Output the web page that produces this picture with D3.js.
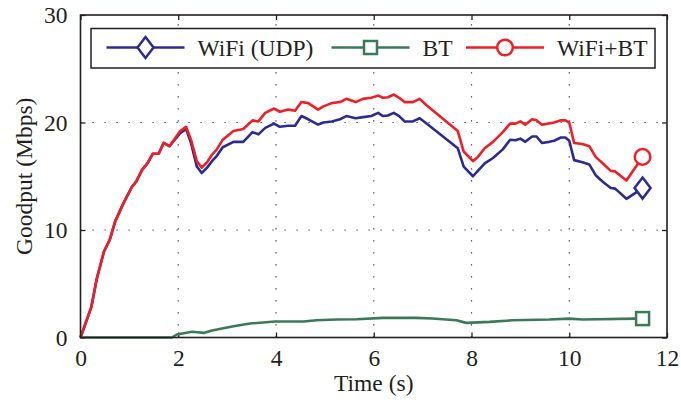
<!DOCTYPE html>
<html>
<head>
<meta charset="utf-8">
<script src="https://cdn.jsdelivr.net/npm/d3@7"></script>
<style>
  html, body { margin: 0; padding: 0; background: #fff; }
  svg { display: block; }
  text { font-family: "Liberation Serif", "Times New Roman", serif; fill: #231f20; }
</style>
</head>
<body>
<svg id="chart" width="681" height="404"></svg>
<script>
// Goodput over time for WiFi alone, Bluetooth alone, and both combined.
const timeShared = [0, 0.22, 0.33, 0.48, 0.6, 0.71, 0.88, 1.05, 1.14, 1.26, 1.37, 1.48, 1.6, 1.7, 1.82,
  2.04, 2.16, 2.26, 2.38, 2.48, 2.59, 2.69, 2.79, 2.91, 3.13, 3.33, 3.52, 3.64, 3.78, 3.96,
  4.08, 4.25, 4.39, 4.52, 4.66, 4.86, 4.97, 5.14, 5.31, 5.44, 5.63, 5.78, 5.95, 6.09, 6.19,
  6.29, 6.41, 6.52, 6.63, 6.8, 6.94, 7.08, 7.72, 7.84, 8.03, 8.13, 8.27, 8.44, 8.64, 8.79,
  8.9, 9.0, 9.1, 9.24, 9.33, 9.44, 9.59, 9.69, 9.83, 9.92, 10.0, 10.1, 10.27, 10.41, 10.54,
  10.71, 10.85, 10.94, 11.17, 11.5];

const wifiUdp = [0, 2.8, 5.4, 8.0, 9.1, 10.8, 12.5, 14.0, 14.5, 15.6, 16.2, 17.1, 17.1, 18.1, 17.8,
  19.0, 19.4, 18.1, 15.9, 15.3, 15.8, 16.4, 16.9, 17.7, 18.2, 18.2, 19.1, 18.9, 19.5, 19.9,
  19.6, 19.7, 19.7, 20.6, 20.3, 19.8, 20.0, 20.1, 20.3, 20.6, 20.4, 20.5, 20.6, 20.9, 20.6,
  20.65, 20.9, 20.6, 20.1, 20.1, 20.4, 19.9, 17.6, 15.9, 15.0, 15.5, 16.2, 16.7, 17.5, 18.4,
  18.35, 18.5, 18.2, 18.7, 18.7, 18.1, 18.2, 18.3, 18.6, 18.6, 18.3, 16.5, 16.3, 16.1, 15.1,
  14.4, 13.9, 13.85, 12.9, 13.9];

const wifiPlusBt = [0, 2.8, 5.4, 8.0, 9.1, 10.8, 12.5, 14.0, 14.5, 15.6, 16.2, 17.1, 17.1, 18.1, 17.8,
  19.2, 19.6, 18.4, 16.4, 15.8, 16.3, 17.0, 17.5, 18.4, 19.2, 19.4, 20.2, 20.1, 20.9, 21.3,
  21.0, 21.2, 21.1, 21.9, 21.8, 21.2, 21.5, 21.8, 21.9, 22.2, 21.9, 22.2, 22.3, 22.5, 22.3,
  22.35, 22.6, 22.3, 21.9, 21.9, 22.2, 21.6, 19.2, 17.3, 16.4, 16.8, 17.6, 18.2, 19.1, 19.9,
  19.9, 20.1, 19.8, 20.3, 20.2, 19.8, 19.9, 20.0, 20.2, 20.2, 20.0, 18.1, 18.0, 17.8, 16.8,
  16.1, 15.5, 15.45, 14.6, 16.8];

const timeBt = [0, 1.87, 1.97, 2.28, 2.52, 2.69, 3.13, 3.47, 3.98, 4.56, 4.83, 5.24, 5.65, 6.19,
  6.87, 7.2, 7.69, 7.89, 8.37, 8.84, 9.59, 10.0, 10.27, 11.36, 11.5];
const btOnly = [0, 0, 0.28, 0.53, 0.43, 0.65, 1.05, 1.3, 1.49, 1.49, 1.6, 1.67, 1.7, 1.83,
  1.83, 1.77, 1.6, 1.36, 1.45, 1.6, 1.67, 1.76, 1.67, 1.76, 1.76];

const xTicks = [0, 2, 4, 6, 8, 10, 12];
const yTicks = [0, 10, 20, 30];
const seriesNames = ["WiFi (UDP)", "BT", "WiFi+BT"];
const seriesColors = ["#2b2b90", "#3c7a57", "#ee1f26"];
const seriesMarkers = ["diamond", "square", "circle"];

const svg = d3.select("#chart");
const L = 80.5, R = 667, T = 15, B = 337.5;

const x = d3.scaleLinear().domain([0, 12]).range([L, R]);
const y = d3.scaleLinear().domain([0, 30]).range([B, T]);

// dotted grid
const grid = svg.append("g").attr("stroke", "#333").attr("stroke-width", 1.2)
  .attr("stroke-dasharray", "1.2,10.8");
xTicks.filter(d => d > 0 && d < 12).forEach(d => {
  grid.append("line").attr("x1", x(d)).attr("x2", x(d)).attr("y1", B).attr("y2", T);
});
yTicks.filter(d => d > 0 && d < 30).forEach(d => {
  grid.append("line").attr("x1", L).attr("x2", R).attr("y1", y(d)).attr("y2", y(d));
});

// axes with inward ticks on all four sides
const fontSize = 23.5;
function styleAxis(g) {
  g.select(".domain").remove();
  g.selectAll(".tick line").attr("stroke", "#231f20").attr("stroke-width", 1.3);
  g.selectAll(".tick text").style("font-size", fontSize + "px")
    .style("font-family", "'Liberation Serif', 'Times New Roman', serif").attr("fill", "#231f20");
}
svg.append("g").attr("transform", `translate(0,${B})`)
  .call(d3.axisBottom(x).tickValues(xTicks).tickFormat(d3.format("d")).tickSizeInner(-5).tickPadding(12))
  .call(styleAxis);
svg.append("g").attr("transform", `translate(0,${T})`)
  .call(d3.axisTop(x).tickValues(xTicks).tickSizeInner(-5).tickFormat(""))
  .call(styleAxis);
svg.append("g").attr("transform", `translate(${L},0)`)
  .call(d3.axisLeft(y).tickValues(yTicks).tickFormat(d3.format("d")).tickSizeInner(-5).tickPadding(13))
  .call(styleAxis);
svg.append("g").attr("transform", `translate(${R},0)`)
  .call(d3.axisRight(y).tickValues(yTicks).tickSizeInner(-5).tickFormat(""))
  .call(styleAxis);

// series lines
const line = d3.line().x(d => x(d[0])).y(d => y(d[1]));
const series = [
  { name: seriesNames[0], color: seriesColors[0], marker: seriesMarkers[0], pts: d3.zip(timeShared, wifiUdp) },
  { name: seriesNames[1], color: seriesColors[1], marker: seriesMarkers[1], pts: d3.zip(timeBt, btOnly) },
  { name: seriesNames[2], color: seriesColors[2], marker: seriesMarkers[2], pts: d3.zip(timeShared, wifiPlusBt) }
];

function drawMarker(g, kind, cx, cy, color) {
  if (kind === "diamond") {
    g.append("path").attr("d", `M${cx},${cy - 10.5}L${cx + 8},${cy}L${cx},${cy + 10.5}L${cx - 8},${cy}Z`)
      .attr("fill", "#fff").attr("stroke", color).attr("stroke-width", 2.5);
  } else if (kind === "square") {
    g.append("rect").attr("x", cx - 6.5).attr("y", cy - 6.5).attr("width", 13).attr("height", 13)
      .attr("fill", "#fff").attr("stroke", color).attr("stroke-width", 2.5);
  } else {
    g.append("circle").attr("cx", cx).attr("cy", cy).attr("r", 7.8)
      .attr("fill", "#fff").attr("stroke", color).attr("stroke-width", 2.5);
  }
}

const plot = svg.append("g");
series.forEach(s => {
  plot.append("path").datum(s.pts).attr("d", line).attr("fill", "none")
    .attr("stroke", s.color).attr("stroke-width", 2.6).attr("stroke-linejoin", "round");
});
series.forEach(s => {
  const last = s.pts[s.pts.length - 1];
  drawMarker(plot, s.marker, x(last[0]), y(last[1]), s.color);
});

// frame
svg.append("rect").attr("x", L).attr("y", T).attr("width", R - L).attr("height", B - T)
  .attr("fill", "none").attr("stroke", "#231f20").attr("stroke-width", 1.6);

// legend
const lg = svg.append("g");
lg.append("rect").attr("x", 91).attr("y", 28.5).attr("width", 564).attr("height", 39.5)
  .attr("fill", "#fff").attr("stroke", "#231f20").attr("stroke-width", 1.5);
const legendX = [106.5, 331.5, 466];
series.forEach((s, i) => {
  const x0 = legendX[i], ly = 47.5;
  lg.append("line").attr("x1", x0).attr("x2", x0 + 78).attr("y1", ly).attr("y2", ly)
    .attr("stroke", s.color).attr("stroke-width", 2.6);
  drawMarker(lg, s.marker, x0 + 39, ly, s.color);
  lg.append("text").attr("x", x0 + 91).attr("y", 56).style("font-size", fontSize + "px").text(s.name);
});

// axis titles
svg.append("text").attr("x", (L + R) / 2).attr("y", 391).attr("text-anchor", "middle")
  .style("font-size", fontSize + "px").text("Time (s)");
svg.append("text").attr("transform", `translate(32,${(T + B) / 2}) rotate(-90)`)
  .attr("text-anchor", "middle").style("font-size", fontSize + "px").text("Goodput (Mbps)");
</script>
</body>
</html>
